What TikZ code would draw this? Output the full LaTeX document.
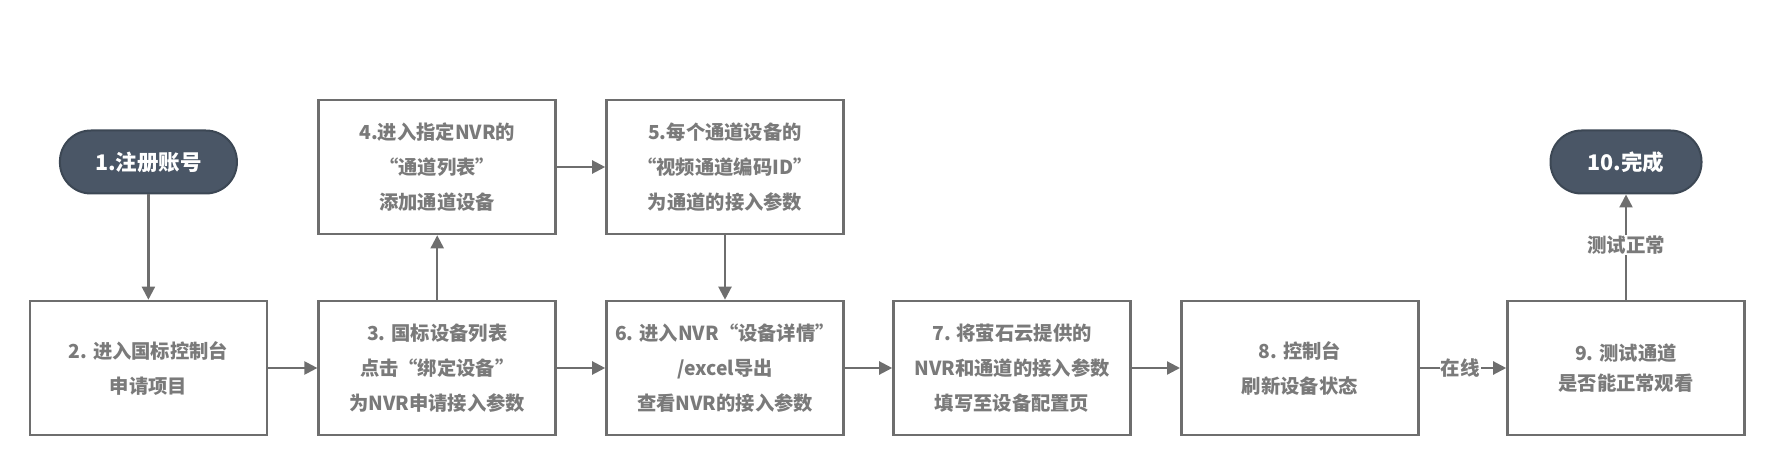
\documentclass[tikz,border=0pt]{standalone}
\usepackage{fontspec}
\setmainfont{Noto Sans CJK SC}
\usetikzlibrary{arrows.meta}
\definecolor{linegray}{HTML}{6E6E6E}
\definecolor{textgray}{HTML}{7A7A7A}
\definecolor{pillfill}{HTML}{4A5666}
\definecolor{pilledge}{HTML}{3C4754}
\tikzset{
  stepbox/.style={draw=linegray, line width=2.6pt, fill=white, minimum width=237pt, minimum height=134pt,
    align=center, text=textgray, font=\fontsize{19.3}{35}\selectfont\bfseries, inner sep=0pt},
  pill/.style={draw=pilledge, line width=2pt, fill=pillfill, rounded corners=31pt, minimum height=63pt,
    align=center, text=white, font=\fontsize{21.5}{26}\selectfont\bfseries, inner sep=0pt},
  flow/.style={draw=linegray, line width=2.2pt, -{Triangle[length=13pt,width=13pt]}},
  edgelabel/.style={fill=white, text=textgray, font=\fontsize{19.5}{22}\selectfont\bfseries, inner sep=1pt}
}
\begin{document}
\begin{tikzpicture}[x=1pt,y=-1pt]
\useasboundingbox (0,0) rectangle (1776,470);
\node[pill, minimum width=177pt] (p1) at (148.4,162) {1.注册账号};
\node[stepbox] (b2) at (148.4,368) {2. 进入国标控制台\\申请项目};
\node[stepbox] (b3) at (437.2,368) {3. 国标设备列表\\点击“绑定设备”\\为NVR申请接入参数};
\node[stepbox] (b4) at (437.2,167) {4.进入指定NVR的\\“通道列表”\\添加通道设备};
\node[stepbox] (b5) at (725,167) {5.每个通道设备的\\“视频通道编码ID”\\为通道的接入参数};
\node[stepbox] (b6) at (725,368) {6. 进入NVR“设备详情”\\/excel导出\\查看NVR的接入参数};
\node[stepbox] (b7) at (1012,368) {7. 将萤石云提供的\\NVR和通道的接入参数\\填写至设备配置页};
\node[stepbox] (b8) at (1299.8,368) {8. 控制台\\刷新设备状态};
\node[stepbox, font=\fontsize{19.3}{30.5}\selectfont\bfseries] (b9) at (1626,368) {9. 测试通道\\是否能正常观看};
\node[pill, minimum width=151pt] (p10) at (1626,162) {10.完成};
\draw[flow] (p1) -- (b2);
\draw[flow] (b2) -- (b3);
\draw[flow] (b3) -- (b4);
\draw[flow] (b4) -- (b5);
\draw[flow] (b5) -- (b6);
\draw[flow] (b3) -- (b6);
\draw[flow] (b6) -- (b7);
\draw[flow] (b7) -- (b8);
\draw[flow] (b8) -- node[edgelabel, pos=0.47] {在线} (b9);
\draw[flow] (b9) -- node[edgelabel, pos=0.52] {测试正常} (p10);
\end{tikzpicture}
\end{document}
